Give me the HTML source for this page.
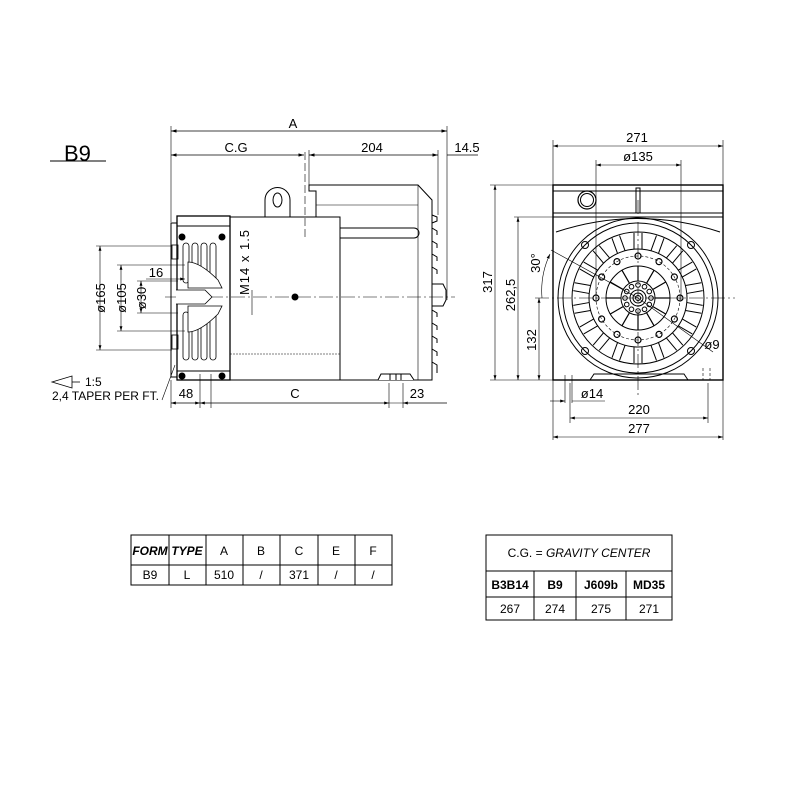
<!DOCTYPE html>
<html><head><meta charset="utf-8"><style>
html,body{margin:0;padding:0;background:#fff}
svg{display:block}
text{font-family:"Liberation Sans",sans-serif;fill:#000}
</style></head><body>
<svg width="800" height="800" viewBox="0 0 800 800" xmlns="http://www.w3.org/2000/svg">
<defs>
<marker id="a" viewBox="0 0 10 10" refX="10" refY="5" markerWidth="8" markerHeight="8" orient="auto-start-reverse"><path d="M0,2 L10,5 L0,8 z" fill="#000"/></marker>
</defs>
<g stroke="#000" fill="none" stroke-width="1">
<line x1="50" y1="161" x2="106" y2="161"/>
<line x1="171" y1="126" x2="171" y2="222" stroke-width="0.6"/>
<line x1="447" y1="126" x2="447" y2="300" stroke-width="0.6"/>
<line x1="438" y1="150" x2="438" y2="215" stroke-width="0.6"/>
<line x1="309" y1="150" x2="309" y2="185" stroke-width="0.6"/>
<line x1="171" y1="131" x2="447" y2="131" stroke-width="0.7" marker-start="url(#a)" marker-end="url(#a)"/>
<line x1="171" y1="155" x2="304" y2="155" stroke-width="0.7" marker-start="url(#a)" marker-end="url(#a)"/>
<line x1="309" y1="155" x2="438" y2="155" stroke-width="0.7" marker-start="url(#a)" marker-end="url(#a)"/>
<line x1="447" y1="155" x2="478" y2="155" stroke-width="0.7"/>
<line x1="305" y1="152" x2="305" y2="240" stroke-width="0.6" stroke-dasharray="8,3"/>
<line x1="165" y1="297" x2="455" y2="297" stroke-width="0.6" stroke-dasharray="14,3,2,3"/>
<circle cx="295" cy="297" r="3" fill="#000"/>
<path d="M265,217 L265,200 A12.5,12.5 0 0 1 290,200 L290,217"/>
<ellipse cx="277.5" cy="200" rx="4.5" ry="7"/>
<rect x="230" y="217" width="110" height="163"/>
<line x1="230" y1="354" x2="340" y2="354" stroke-width="0.6" stroke-dasharray="2,1"/>
<rect x="177" y="216" width="53" height="164" stroke-width="1.3"/>
<rect x="171" y="223" width="6" height="154"/>
<line x1="177" y1="226" x2="230" y2="226"/>
<line x1="177" y1="371" x2="230" y2="371"/>
<circle cx="182" cy="237" r="3" fill="#000"/><circle cx="222" cy="237" r="3" fill="#000"/>
<circle cx="182" cy="376" r="3" fill="#000"/><circle cx="222" cy="376" r="3" fill="#000"/>
<g stroke-width="0.8">
<rect x="183" y="243" width="6" height="40" rx="3"/><rect x="192" y="243" width="6" height="40" rx="3"/><rect x="201" y="243" width="6" height="40" rx="3"/><rect x="210" y="243" width="6" height="40" rx="3"/>
<rect x="183" y="312" width="6" height="48" rx="3"/><rect x="192" y="312" width="6" height="48" rx="3"/><rect x="201" y="312" width="6" height="48" rx="3"/><rect x="210" y="312" width="6" height="48" rx="3"/>
<path d="M188,262 Q200,262 218,280 L222,288 L188,288 Z" fill="#fff"/>
<path d="M188,332 Q200,332 218,314 L222,306 L188,306 Z" fill="#fff"/>
<path d="M176,290 L205,290 L212,297 L205,304 L176,304" fill="#fff"/>
<rect x="172" y="245" width="6" height="14"/><rect x="172" y="335" width="6" height="14"/>
</g>
<path d="M340,217 L340,380 L432,380 L432,200 L418,185 L309,185 L309,191 L316,191 L316,217" />
<line x1="316" y1="205" x2="418" y2="205" stroke-width="0.6"/>
<line x1="418" y1="185" x2="418" y2="380" stroke-width="0.6"/>
<path d="M340,228 L414,228 A5,5 0 0 1 414,238 L340,238"/>
<path d="M432,215 l5,2 l0,4 l-5,2 M432,228 l5,3 l0,4 M432,241 l5,3 l0,4 M432,254 l5,3 l0,4 M432,267 l5,3 l0,4 M432,310 l5,3 l0,4 M432,323 l5,3 l0,4 M432,336 l5,3 l0,4 M432,349 l5,3 l0,4 M432,362 l5,3 l0,8"/>
<path d="M432,284 L443,284 L446,290 L446,300 L443,306 L432,306"/>
<path d="M378,380 L381,374 L410,374 L414,380" fill="#fff"/>
<line x1="390" y1="374" x2="390" y2="380"/><line x1="396" y1="374" x2="396" y2="380"/><line x1="401" y1="374" x2="401" y2="380"/>
<g stroke-width="0.6">
<line x1="96" y1="246" x2="172" y2="246"/><line x1="96" y1="350" x2="172" y2="350"/>
<line x1="117" y1="265" x2="185" y2="265"/><line x1="117" y1="331" x2="185" y2="331"/>
<line x1="137" y1="281" x2="178" y2="281"/><line x1="137" y1="313" x2="178" y2="313"/>
<line x1="100" y1="246" x2="100" y2="350" marker-start="url(#a)" marker-end="url(#a)"/>
<line x1="121" y1="265" x2="121" y2="331" marker-start="url(#a)" marker-end="url(#a)"/>
<line x1="141" y1="281" x2="141" y2="313" marker-start="url(#a)" marker-end="url(#a)"/>
<line x1="146" y1="279" x2="185" y2="279" marker-end="url(#a)"/>
<line x1="252" y1="290" x2="252" y2="315"/>
<line x1="211" y1="374" x2="211" y2="408"/><line x1="200" y1="374" x2="200" y2="408"/>
<line x1="389" y1="383" x2="389" y2="408"/><line x1="403" y1="383" x2="403" y2="408"/>
<line x1="171" y1="403" x2="447" y2="403"/>
<line x1="171" y1="403" x2="200" y2="403" marker-start="url(#a)" marker-end="url(#a)"/>
<line x1="200" y1="403" x2="389" y2="403" marker-start="url(#a)" marker-end="url(#a)"/>
<line x1="403" y1="403" x2="447" y2="403" marker-start="url(#a)"/>
<line x1="171" y1="380" x2="171" y2="408"/>
<line x1="162" y1="400" x2="175" y2="365"/>
</g>
<path d="M52,382 L72,376 L72,388 Z" stroke-width="0.8"/><line x1="72" y1="382" x2="80" y2="382" stroke-width="0.8"/>

<g stroke-width="0.6">
<line x1="553" y1="140" x2="553" y2="440"/><line x1="723" y1="140" x2="723" y2="440"/>
<line x1="553" y1="146" x2="723" y2="146" marker-start="url(#a)" marker-end="url(#a)"/>
<line x1="596" y1="160" x2="596" y2="300"/><line x1="681" y1="160" x2="681" y2="300"/>
<line x1="596" y1="165" x2="681" y2="165" marker-start="url(#a)" marker-end="url(#a)"/>
<line x1="490" y1="185" x2="553" y2="185"/><line x1="490" y1="380" x2="553" y2="380"/>
<line x1="514" y1="217" x2="553" y2="217"/>
<line x1="495" y1="185" x2="495" y2="380" marker-start="url(#a)" marker-end="url(#a)"/>
<line x1="518" y1="217" x2="518" y2="380" marker-start="url(#a)" marker-end="url(#a)"/>
<line x1="539" y1="298" x2="539" y2="380" marker-start="url(#a)" marker-end="url(#a)"/>
<line x1="535" y1="298" x2="735" y2="298" stroke-dasharray="14,3,2,3"/>
<line x1="638" y1="200" x2="638" y2="395" stroke-dasharray="14,3,2,3"/>
<path d="M550,254 A86,86 0 0 0 542,298" marker-start="url(#a)"/>
<line x1="551" y1="250" x2="638" y2="298"/>
<line x1="638" y1="298" x2="713" y2="352"/>
<line x1="570" y1="383" x2="570" y2="423"/><line x1="708" y1="383" x2="708" y2="423"/>
<line x1="570" y1="418" x2="708" y2="418" marker-start="url(#a)" marker-end="url(#a)"/>
<line x1="553" y1="437" x2="723" y2="437" marker-start="url(#a)" marker-end="url(#a)"/>
<line x1="565" y1="375" x2="565" y2="403"/><line x1="572" y1="375" x2="572" y2="403"/>
<line x1="550" y1="401" x2="565" y2="401" marker-end="url(#a)"/>
<line x1="572" y1="401" x2="605" y2="401"/>
<line x1="703" y1="368" x2="703" y2="380" stroke-dasharray="3,2"/><line x1="710" y1="368" x2="710" y2="380" stroke-dasharray="3,2"/>
</g>
<rect x="553" y="185" width="170" height="195" stroke-width="1.4"/>
<line x1="553" y1="191" x2="723" y2="191"/>
<line x1="553" y1="213" x2="723" y2="213"/><line x1="553" y1="217" x2="723" y2="217"/>
<rect x="636" y="188" width="4" height="25"/>
<circle cx="587" cy="200" r="9" stroke-width="1.2"/><circle cx="587" cy="200" r="6.5"/>
<path d="M556,232 Q638,205 720,232"/>
<path d="M590,380 L594,374 L684,374 L688,380"/>
<circle cx="638" cy="298" r="80"/>
<circle cx="638" cy="298" r="75"/>
<circle cx="638" cy="298" r="66"/>
<circle cx="638" cy="298" r="49"/>
<circle cx="638" cy="298" r="42" stroke-dasharray="3,2" stroke-width="0.6"/>
<circle cx="638" cy="298" r="32"/>
<circle cx="638" cy="298" r="17"/>
<circle cx="638" cy="298" r="8"/><circle cx="638" cy="298" r="5"/><circle cx="638" cy="298" r="2.5"/>
<g id="slots"><path d="M634,233 L634,249 M642,233 L642,249"/></g>
<use href="#slots" transform="rotate(20 638 298)"/><use href="#slots" transform="rotate(40 638 298)"/><use href="#slots" transform="rotate(60 638 298)"/><use href="#slots" transform="rotate(80 638 298)"/><use href="#slots" transform="rotate(100 638 298)"/><use href="#slots" transform="rotate(120 638 298)"/><use href="#slots" transform="rotate(140 638 298)"/><use href="#slots" transform="rotate(160 638 298)"/><use href="#slots" transform="rotate(180 638 298)"/><use href="#slots" transform="rotate(200 638 298)"/><use href="#slots" transform="rotate(220 638 298)"/><use href="#slots" transform="rotate(240 638 298)"/><use href="#slots" transform="rotate(260 638 298)"/><use href="#slots" transform="rotate(280 638 298)"/><use href="#slots" transform="rotate(300 638 298)"/><use href="#slots" transform="rotate(320 638 298)"/><use href="#slots" transform="rotate(340 638 298)"/>
<g id="hole"><circle cx="638" cy="256" r="3" stroke-width="1.2"/></g>
<use href="#hole" transform="rotate(30 638 298)"/><use href="#hole" transform="rotate(60 638 298)"/><use href="#hole" transform="rotate(90 638 298)"/><use href="#hole" transform="rotate(120 638 298)"/><use href="#hole" transform="rotate(150 638 298)"/><use href="#hole" transform="rotate(180 638 298)"/><use href="#hole" transform="rotate(210 638 298)"/><use href="#hole" transform="rotate(240 638 298)"/><use href="#hole" transform="rotate(270 638 298)"/><use href="#hole" transform="rotate(300 638 298)"/><use href="#hole" transform="rotate(330 638 298)"/>
<circle cx="585" cy="245" r="3.5"/><circle cx="691" cy="245" r="3.5"/><circle cx="585" cy="351" r="3.5"/><circle cx="691" cy="351" r="3.5"/>
<g id="sh"><circle cx="638" cy="285" r="2.3"/><line x1="638" y1="266" x2="638" y2="281" stroke-width="1.2"/></g>
<use href="#sh" transform="rotate(30 638 298)"/><use href="#sh" transform="rotate(60 638 298)"/><use href="#sh" transform="rotate(90 638 298)"/><use href="#sh" transform="rotate(120 638 298)"/><use href="#sh" transform="rotate(150 638 298)"/><use href="#sh" transform="rotate(180 638 298)"/><use href="#sh" transform="rotate(210 638 298)"/><use href="#sh" transform="rotate(240 638 298)"/><use href="#sh" transform="rotate(270 638 298)"/><use href="#sh" transform="rotate(300 638 298)"/><use href="#sh" transform="rotate(330 638 298)"/>

<rect x="131" y="535" width="261" height="50"/>
<line x1="131" y1="565" x2="392" y2="565"/>
<line x1="169" y1="535" x2="169" y2="585"/><line x1="206" y1="535" x2="206" y2="585"/><line x1="243" y1="535" x2="243" y2="585"/><line x1="280" y1="535" x2="280" y2="585"/><line x1="318" y1="535" x2="318" y2="585"/><line x1="355" y1="535" x2="355" y2="585"/>
<rect x="486" y="535" width="186" height="85"/>
<line x1="486" y1="571" x2="672" y2="571"/><line x1="486" y1="597" x2="672" y2="597"/>
<line x1="534" y1="571" x2="534" y2="620"/><line x1="576" y1="571" x2="576" y2="620"/><line x1="626" y1="571" x2="626" y2="620"/>
</g>
<g font-size="13">
<text x="64" y="161" font-size="22">B9</text>
<text x="293" y="128" text-anchor="middle">A</text>
<text x="236" y="152" text-anchor="middle">C.G</text>
<text x="372" y="152" text-anchor="middle">204</text>
<text x="467" y="152" text-anchor="middle">14.5</text>
<text x="156" y="277" text-anchor="middle">16</text>
<text transform="translate(105,298) rotate(-90)" text-anchor="middle">ø165</text>
<text transform="translate(126,298) rotate(-90)" text-anchor="middle">ø105</text>
<text transform="translate(146,298) rotate(-90)" text-anchor="middle">ø30</text>
<text transform="translate(249,262) rotate(-90)" text-anchor="middle" letter-spacing="1">M14 x 1.5</text>
<text x="85" y="386" font-size="12">1:5</text>
<text x="52" y="400" font-size="12">2,4 TAPER PER FT.</text>
<text x="186" y="398" text-anchor="middle">48</text>
<text x="295" y="398" text-anchor="middle">C</text>
<text x="417" y="398" text-anchor="middle">23</text>
<text x="637" y="142" text-anchor="middle">271</text>
<text x="638" y="161" text-anchor="middle">ø135</text>
<text transform="translate(492,282) rotate(-90)" text-anchor="middle">317</text>
<text transform="translate(515,295) rotate(-90)" text-anchor="middle">262,5</text>
<text transform="translate(536,340) rotate(-90)" text-anchor="middle">132</text>
<text transform="translate(540,263) rotate(-90)" text-anchor="middle">30°</text>
<text x="712" y="349" text-anchor="middle">ø9</text>
<text x="592" y="398" text-anchor="middle">ø14</text>
<text x="639" y="414" text-anchor="middle">220</text>
<text x="639" y="433" text-anchor="middle">277</text>
<g font-size="12" text-anchor="middle">
<text x="150" y="555" font-style="italic" font-weight="bold">FORM</text>
<text x="187" y="555" font-style="italic" font-weight="bold">TYPE</text>
<text x="224" y="555">A</text><text x="261" y="555">B</text><text x="299" y="555">C</text><text x="336" y="555">E</text><text x="373" y="555">F</text>
<text x="150" y="579">B9</text><text x="187" y="579">L</text><text x="224" y="579">510</text><text x="261" y="579">/</text><text x="299" y="579">371</text><text x="336" y="579">/</text><text x="373" y="579">/</text>
<text x="579" y="557">C.G. =  <tspan font-style="italic">GRAVITY  CENTER</tspan></text>
<text x="510" y="589" font-weight="bold">B3B14</text><text x="555" y="589" font-weight="bold">B9</text><text x="601" y="589" font-weight="bold">J609b</text><text x="649" y="589" font-weight="bold">MD35</text>
<text x="510" y="613">267</text><text x="555" y="613">274</text><text x="601" y="613">275</text><text x="649" y="613">271</text>
</g>
</g>
</svg>
</body></html>
